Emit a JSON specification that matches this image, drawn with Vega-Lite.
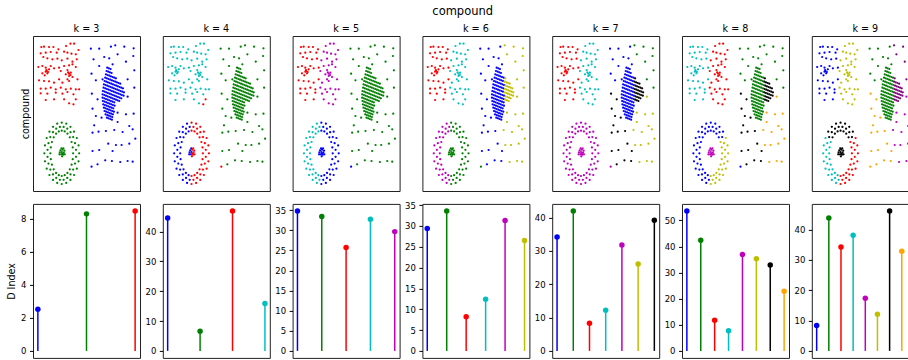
{
"$schema":"https://vega.github.io/schema/vega-lite/v6.json",
"padding":{"left":6,"top":6,"right":0,"bottom":0},
"title":{"text":"compound","fontSize":11.5,"anchor":"middle","offset":6},
"config":{"font":"DejaVu Sans","view":{"stroke":"#222","strokeWidth":1},
"title":{"fontSize":9.6,"fontWeight":"normal","color":"#000","offset":2},
"axis":{"grid":false,"domain":false,"tickColor":"#000","labelColor":"#000","titleColor":"#000","labelFontSize":8.5,"titleFontSize":9.6,"titleFontWeight":"normal","tickSize":3.5,"labelPadding":3.5,"titlePadding":4,"labelOverlap":false,"labelFlush":false}},
"datasets":{
"reg":[
{"r":"A","k3":2,"k4":3,"k5":2,"k6":2,"k7":2,"k8":3,"k9":0},
{"r":"B","k3":2,"k4":3,"k5":4,"k6":3,"k7":3,"k8":2,"k9":5},
{"r":"Bx","k3":2,"k4":2,"k5":4,"k6":3,"k7":3,"k8":2,"k9":5},
{"r":"CLT","k3":0,"k4":1,"k5":1,"k6":0,"k7":0,"k8":1,"k9":1},
{"r":"CLB","k3":0,"k4":1,"k5":1,"k6":0,"k7":0,"k8":1,"k9":1},
{"r":"CR","k3":0,"k4":1,"k5":1,"k6":5,"k7":6,"k8":6,"k9":8},
{"r":"D1","k3":0,"k4":1,"k5":1,"k6":0,"k7":0,"k8":1,"k9":1},
{"r":"D2","k3":0,"k4":1,"k5":1,"k6":5,"k7":1,"k8":1,"k9":8},
{"r":"D3","k3":0,"k4":1,"k5":1,"k6":0,"k7":6,"k8":6,"k9":7},
{"r":"D4","k3":0,"k4":1,"k5":1,"k6":5,"k7":5,"k8":7,"k9":4},
{"r":"Dx","k3":0,"k4":2,"k5":0,"k6":1,"k7":4,"k8":0,"k9":7},
{"r":"ETL","k3":1,"k4":0,"k5":3,"k6":4,"k7":4,"k8":0,"k9":6},
{"r":"ETR","k3":1,"k4":2,"k5":0,"k6":1,"k7":4,"k8":0,"k9":6},
{"r":"EL","k3":1,"k4":0,"k5":3,"k6":4,"k7":4,"k8":0,"k9":3},
{"r":"ER","k3":1,"k4":2,"k5":0,"k6":1,"k7":4,"k8":5,"k9":2},
{"r":"FL","k3":1,"k4":0,"k5":0,"k6":1,"k7":4,"k8":4,"k9":6},
{"r":"FR","k3":1,"k4":2,"k5":0,"k6":1,"k7":4,"k8":4,"k9":6}
],
"d":[
{"k":3,"i":0,"c":0,"v":2.53},{"k":3,"i":1,"c":1,"v":8.30},{"k":3,"i":2,"c":2,"v":8.48},
{"k":4,"i":0,"c":0,"v":44.5},{"k":4,"i":1,"c":1,"v":6.6},{"k":4,"i":2,"c":2,"v":46.9},{"k":4,"i":3,"c":3,"v":15.9},
{"k":5,"i":0,"c":0,"v":34.8},{"k":5,"i":1,"c":1,"v":33.4},{"k":5,"i":2,"c":2,"v":25.7},{"k":5,"i":3,"c":3,"v":32.7},{"k":5,"i":4,"c":4,"v":29.65},
{"k":6,"i":0,"c":0,"v":29.4},{"k":6,"i":1,"c":1,"v":33.6},{"k":6,"i":2,"c":2,"v":8.2},{"k":6,"i":3,"c":3,"v":12.4},{"k":6,"i":4,"c":4,"v":31.3},{"k":6,"i":5,"c":5,"v":26.5},
{"k":7,"i":0,"c":0,"v":34.2},{"k":7,"i":1,"c":1,"v":42.0},{"k":7,"i":2,"c":2,"v":8.3},{"k":7,"i":3,"c":3,"v":12.2},{"k":7,"i":4,"c":4,"v":31.8},{"k":7,"i":5,"c":5,"v":26.1},{"k":7,"i":6,"c":6,"v":39.2},
{"k":8,"i":0,"c":0,"v":53.6},{"k":8,"i":1,"c":1,"v":42.4},{"k":8,"i":2,"c":2,"v":11.7},{"k":8,"i":3,"c":3,"v":7.7},{"k":8,"i":4,"c":4,"v":36.9},{"k":8,"i":5,"c":5,"v":35.3},{"k":8,"i":6,"c":6,"v":32.9},{"k":8,"i":7,"c":7,"v":22.8},
{"k":9,"i":0,"c":0,"v":8.4},{"k":9,"i":1,"c":1,"v":43.8},{"k":9,"i":2,"c":2,"v":34.2},{"k":9,"i":3,"c":3,"v":38.1},{"k":9,"i":4,"c":4,"v":17.3},{"k":9,"i":5,"c":5,"v":12.1},{"k":9,"i":6,"c":6,"v":46.1},{"k":9,"i":7,"c":7,"v":32.8},{"k":9,"i":8,"c":8,"v":20.0}
],
"pts":[
{"x":25,"y":432,"r":"A"},{"x":33,"y":433,"r":"A"},{"x":48,"y":432,"r":"A"},{"x":61,"y":432,"r":"A"},{"x":76,"y":425,"r":"A"},
{"x":23,"y":413,"r":"A"},{"x":38,"y":415,"r":"A"},{"x":53,"y":417,"r":"A"},{"x":71,"y":415,"r":"A"},
{"x":31,"y":402,"r":"A"},{"x":43,"y":398,"r":"A"},{"x":58,"y":395,"r":"A"},{"x":73,"y":397,"r":"A"},
{"x":16,"y":372,"r":"A"},{"x":28,"y":375,"r":"A"},{"x":38,"y":370,"r":"A"},{"x":48,"y":365,"r":"A"},{"x":41,"y":360,"r":"A"},{"x":43,"y":353,"r":"A"},{"x":35,"y":347,"r":"A"},{"x":28,"y":353,"r":"A"},{"x":53,"y":375,"r":"A"},{"x":63,"y":368,"r":"A"},{"x":78,"y":370,"r":"A"},
{"x":18,"y":332,"r":"A"},{"x":33,"y":330,"r":"A"},{"x":48,"y":329,"r":"A"},{"x":63,"y":325,"r":"A"},{"x":78,"y":335,"r":"A"},
{"x":23,"y":307,"r":"A"},{"x":38,"y":307,"r":"A"},{"x":53,"y":310,"r":"A"},{"x":68,"y":305,"r":"A"},
{"x":23,"y":293,"r":"A"},{"x":43,"y":292,"r":"A"},{"x":68,"y":295,"r":"A"},
{"x":38,"y":273,"r":"A"},{"x":63,"y":275,"r":"A"},
{"x":38,"y":358,"r":"A"},{"x":45,"y":357,"r":"A"},{"x":40,"y":363,"r":"A"},
{"x":99,"y":435,"r":"B"},{"x":112,"y":442,"r":"B"},{"x":123,"y":442,"r":"B"},{"x":136,"y":423,"r":"B"},
{"x":93,"y":418,"r":"B"},{"x":103,"y":415,"r":"B"},{"x":115,"y":412,"r":"B"},{"x":128,"y":410,"r":"B"},
{"x":86,"y":392,"r":"B"},{"x":103,"y":397,"r":"B"},{"x":118,"y":388,"r":"B"},{"x":131,"y":395,"r":"B"},
{"x":93,"y":375,"r":"B"},{"x":108,"y":377,"r":"B"},{"x":118,"y":380,"r":"B"},{"x":128,"y":372,"r":"B"},{"x":103,"y":363,"r":"B"},{"x":113,"y":355,"r":"B"},{"x":108,"y":345,"r":"B"},{"x":118,"y":342,"r":"B"},{"x":103,"y":335,"r":"B"},{"x":98,"y":350,"r":"B"},{"x":83,"y":360,"r":"B"},
{"x":88,"y":325,"r":"B"},{"x":108,"y":330,"r":"B"},{"x":133,"y":335,"r":"B"},
{"x":83,"y":310,"r":"B"},{"x":98,"y":305,"r":"B"},{"x":113,"y":307,"r":"B"},{"x":128,"y":305,"r":"B"},{"x":138,"y":305,"r":"B"},
{"x":88,"y":292,"r":"B"},{"x":103,"y":297,"r":"B"},{"x":121,"y":290,"r":"B"},
{"x":93,"y":275,"r":"B"},{"x":108,"y":263,"r":"B"},
{"x":108,"y":352,"r":"B"},{"x":112,"y":348,"r":"B"},{"x":105,"y":356,"r":"B"},
{"x":121,"y":260,"r":"Bx"},{"x":128,"y":275,"r":"Bx"},
{"x":222,"y":370,"r":"CLT"},{"x":227,"y":368,"r":"CLT"},{"x":232,"y":366,"r":"CLT"},
{"x":220,"y":360,"r":"CLT"},{"x":225,"y":358,"r":"CLT"},{"x":230,"y":356,"r":"CLT"},{"x":235,"y":354,"r":"CLT"},
{"x":218,"y":350,"r":"CLT"},{"x":223,"y":348,"r":"CLT"},{"x":228,"y":346,"r":"CLT"},{"x":233,"y":344,"r":"CLT"},{"x":238,"y":342,"r":"CLT"},{"x":243,"y":340,"r":"CLT"},{"x":248,"y":338,"r":"CR"},
{"x":216,"y":340,"r":"CLT"},{"x":221,"y":338,"r":"CLT"},{"x":226,"y":336,"r":"CLT"},{"x":231,"y":334,"r":"CLT"},{"x":236,"y":332,"r":"CLT"},{"x":241,"y":330,"r":"CLT"},{"x":246,"y":328,"r":"CR"},{"x":251,"y":326,"r":"CR"},{"x":256,"y":324,"r":"CR"},{"x":261,"y":322,"r":"CR"},
{"x":214,"y":330,"r":"CLT"},{"x":219,"y":328,"r":"CLT"},{"x":224,"y":326,"r":"CLT"},{"x":229,"y":324,"r":"CLT"},{"x":234,"y":322,"r":"CLT"},{"x":239,"y":320,"r":"CLT"},{"x":244,"y":318,"r":"CLT"},{"x":249,"y":316,"r":"CR"},{"x":254,"y":314,"r":"CR"},{"x":259,"y":312,"r":"CR"},{"x":264,"y":310,"r":"CR"},{"x":269,"y":308,"r":"CR"},
{"x":212,"y":320,"r":"CLT"},{"x":217,"y":318,"r":"CLT"},{"x":222,"y":316,"r":"CLT"},{"x":227,"y":314,"r":"CLT"},{"x":232,"y":312,"r":"CLT"},{"x":237,"y":310,"r":"CLT"},{"x":242,"y":308,"r":"CLT"},{"x":247,"y":306,"r":"CR"},{"x":252,"y":304,"r":"CR"},{"x":257,"y":302,"r":"CR"},{"x":262,"y":300,"r":"CR"},{"x":267,"y":298,"r":"CR"},{"x":272,"y":296,"r":"CR"},
{"x":211,"y":310,"r":"CLT"},{"x":216,"y":308,"r":"CLT"},{"x":221,"y":306,"r":"CLT"},{"x":226,"y":304,"r":"CLT"},{"x":231,"y":302,"r":"CLT"},{"x":236,"y":300,"r":"CLB"},{"x":241,"y":298,"r":"CLB"},{"x":246,"y":296,"r":"CR"},{"x":251,"y":294,"r":"CR"},{"x":256,"y":292,"r":"CR"},{"x":261,"y":290,"r":"CR"},{"x":266,"y":288,"r":"CR"},{"x":271,"y":286,"r":"CR"},
{"x":209,"y":300,"r":"CLB"},{"x":214,"y":298,"r":"CLB"},{"x":219,"y":296,"r":"CLB"},{"x":224,"y":294,"r":"CLB"},{"x":229,"y":292,"r":"CLB"},{"x":234,"y":290,"r":"CLB"},{"x":239,"y":288,"r":"CLB"},{"x":244,"y":286,"r":"CLB"},{"x":249,"y":284,"r":"CR"},{"x":254,"y":282,"r":"CR"},{"x":259,"y":280,"r":"CR"},{"x":264,"y":278,"r":"CR"},
{"x":208,"y":290,"r":"CLB"},{"x":213,"y":288,"r":"CLB"},{"x":218,"y":286,"r":"CLB"},{"x":223,"y":284,"r":"CLB"},{"x":228,"y":282,"r":"CLB"},{"x":233,"y":280,"r":"CLB"},{"x":238,"y":278,"r":"CLB"},{"x":243,"y":276,"r":"CLB"},{"x":248,"y":274,"r":"CR"},{"x":253,"y":272,"r":"CR"},{"x":258,"y":270,"r":"CR"},
{"x":208,"y":280,"r":"CLB"},{"x":213,"y":278,"r":"CLB"},{"x":218,"y":276,"r":"CLB"},{"x":223,"y":274,"r":"CLB"},{"x":228,"y":272,"r":"CLB"},{"x":233,"y":270,"r":"CLB"},{"x":238,"y":268,"r":"CLB"},{"x":243,"y":266,"r":"CLB"},
{"x":209,"y":270,"r":"CLB"},{"x":214,"y":268,"r":"CLB"},{"x":219,"y":266,"r":"CLB"},{"x":224,"y":264,"r":"CLB"},{"x":229,"y":262,"r":"CLB"},{"x":234,"y":260,"r":"CLB"},{"x":239,"y":258,"r":"CLB"},{"x":244,"y":256,"r":"CLB"},
{"x":210,"y":260,"r":"CLB"},{"x":215,"y":258,"r":"CLB"},{"x":220,"y":256,"r":"CLB"},{"x":225,"y":254,"r":"CLB"},{"x":230,"y":252,"r":"CLB"},{"x":235,"y":250,"r":"CLB"},{"x":240,"y":248,"r":"CLB"},
{"x":212,"y":250,"r":"CLB"},{"x":217,"y":248,"r":"CLB"},{"x":222,"y":246,"r":"CLB"},{"x":227,"y":244,"r":"CLB"},{"x":232,"y":242,"r":"CLB"},{"x":237,"y":240,"r":"CLB"},{"x":242,"y":238,"r":"CLB"},
{"x":214,"y":240,"r":"CLB"},{"x":219,"y":238,"r":"CLB"},{"x":224,"y":236,"r":"CLB"},{"x":229,"y":234,"r":"CLB"},{"x":234,"y":232,"r":"CLB"},{"x":239,"y":230,"r":"CLB"},
{"x":217,"y":230,"r":"CLB"},{"x":222,"y":228,"r":"CLB"},{"x":227,"y":226,"r":"CLB"},{"x":232,"y":224,"r":"CLB"},{"x":237,"y":222,"r":"CLB"},
{"x":221,"y":220,"r":"CLB"},{"x":226,"y":218,"r":"CLB"},{"x":231,"y":216,"r":"CLB"},{"x":236,"y":214,"r":"CLB"},
{"x":173,"y":427,"r":"D1"},{"x":198,"y":427,"r":"D1"},{"x":233,"y":433,"r":"D1"},{"x":246,"y":437,"r":"D2"},{"x":273,"y":433,"r":"D2"},{"x":301,"y":428,"r":"D2"},
{"x":181,"y":395,"r":"D1"},{"x":213,"y":402,"r":"D1"},{"x":228,"y":398,"r":"D1"},{"x":253,"y":410,"r":"D2"},{"x":278,"y":388,"r":"D2"},{"x":300,"y":405,"r":"D2"},
{"x":198,"y":375,"r":"D1"},{"x":238,"y":380,"r":"D1"},{"x":303,"y":362,"r":"D2"},
{"x":175,"y":352,"r":"D1"},{"x":188,"y":332,"r":"D1"},{"x":208,"y":335,"r":"D1"},{"x":283,"y":335,"r":"D2"},
{"x":176,"y":292,"r":"D3"},{"x":193,"y":275,"r":"D3"},{"x":283,"y":283,"r":"D4"},{"x":303,"y":310,"r":"D2"},
{"x":178,"y":247,"r":"D3"},{"x":188,"y":225,"r":"D3"},{"x":205,"y":220,"r":"D3"},{"x":253,"y":235,"r":"D4"},{"x":278,"y":230,"r":"D4"},{"x":301,"y":232,"r":"D4"},
{"x":253,"y":207,"r":"D4"},{"x":183,"y":197,"r":"D3"},{"x":288,"y":195,"r":"D4"},
{"x":178,"y":175,"r":"D3"},{"x":196,"y":178,"r":"D3"},{"x":218,"y":180,"r":"D3"},{"x":243,"y":183,"r":"D4"},{"x":268,"y":177,"r":"D4"},{"x":298,"y":185,"r":"D4"},
{"x":225,"y":142,"r":"D3"},{"x":248,"y":138,"r":"D4"},{"x":265,"y":138,"r":"D4"},{"x":288,"y":142,"r":"D4"},{"x":306,"y":157,"r":"D4"},
{"x":178,"y":120,"r":"D3"},{"x":198,"y":123,"r":"D3"},{"x":238,"y":120,"r":"D3"},
{"x":216,"y":92,"r":"D3"},{"x":236,"y":90,"r":"D3"},{"x":261,"y":87,"r":"D4"},{"x":283,"y":90,"r":"D4"},{"x":298,"y":88,"r":"D4"},
{"x":175,"y":73,"r":"Dx"},{"x":193,"y":80,"r":"D3"},
{"x":138,"y":113,"r":"ER"},{"x":136.2,"y":136.8,"r":"ER"},{"x":131,"y":159,"r":"ER"},{"x":122.8,"y":178,"r":"ETR"},{"x":112,"y":192.7,"r":"ETR"},{"x":99.5,"y":201.9,"r":"ETR"},{"x":86,"y":205,"r":"ETR"},{"x":72.5,"y":201.9,"r":"ETL"},{"x":60,"y":192.7,"r":"ETL"},{"x":49.2,"y":178,"r":"ETL"},{"x":41,"y":159,"r":"EL"},{"x":35.8,"y":136.8,"r":"EL"},{"x":34,"y":113,"r":"EL"},{"x":35.8,"y":89.2,"r":"EL"},{"x":41,"y":67,"r":"EL"},{"x":49.2,"y":48,"r":"EL"},{"x":60,"y":33.3,"r":"EL"},{"x":72.5,"y":24.1,"r":"EL"},{"x":86,"y":21,"r":"ER"},{"x":99.5,"y":24.1,"r":"ER"},{"x":112,"y":33.3,"r":"ER"},{"x":122.8,"y":48,"r":"ER"},{"x":131,"y":67,"r":"ER"},{"x":136.2,"y":89.2,"r":"ER"},
{"x":128.6,"y":123.5,"r":"ER"},{"x":125.7,"y":143.6,"r":"ER"},{"x":120.1,"y":161.7,"r":"ETR"},{"x":112.2,"y":176.4,"r":"ETR"},{"x":102.5,"y":186.9,"r":"ETR"},{"x":91.6,"y":192.3,"r":"ETR"},{"x":80.4,"y":192.3,"r":"ETL"},{"x":69.5,"y":186.9,"r":"ETL"},{"x":59.8,"y":176.4,"r":"ETL"},{"x":51.9,"y":161.7,"r":"ETL"},{"x":46.3,"y":143.6,"r":"EL"},{"x":43.4,"y":123.5,"r":"EL"},{"x":43.4,"y":102.5,"r":"EL"},{"x":46.3,"y":82.4,"r":"EL"},{"x":51.9,"y":64.3,"r":"EL"},{"x":59.8,"y":49.6,"r":"EL"},{"x":69.5,"y":39.1,"r":"EL"},{"x":80.4,"y":33.7,"r":"EL"},{"x":91.6,"y":33.7,"r":"ER"},{"x":102.5,"y":39.1,"r":"ER"},{"x":112.2,"y":49.6,"r":"ER"},{"x":120.1,"y":64.3,"r":"ER"},{"x":125.7,"y":82.4,"r":"ER"},{"x":128.6,"y":102.5,"r":"ER"},
{"x":120,"y":113,"r":"ER"},{"x":118.8,"y":130.6,"r":"ER"},{"x":115.4,"y":147,"r":"ER"},{"x":110,"y":161.1,"r":"ETR"},{"x":103,"y":171.9,"r":"ETR"},{"x":94.8,"y":178.7,"r":"ETR"},{"x":86,"y":181,"r":"ETR"},{"x":77.2,"y":178.7,"r":"ETL"},{"x":69,"y":171.9,"r":"ETL"},{"x":62,"y":161.1,"r":"ETL"},{"x":56.6,"y":147,"r":"EL"},{"x":53.2,"y":130.6,"r":"EL"},{"x":52,"y":113,"r":"EL"},{"x":53.2,"y":95.4,"r":"EL"},{"x":56.6,"y":79,"r":"EL"},{"x":62,"y":64.9,"r":"EL"},{"x":69,"y":54.1,"r":"EL"},{"x":77.2,"y":47.3,"r":"EL"},{"x":86,"y":45,"r":"ER"},{"x":94.8,"y":47.3,"r":"ER"},{"x":103,"y":54.1,"r":"ER"},{"x":110,"y":64.9,"r":"ER"},{"x":115.4,"y":79,"r":"ER"},{"x":118.8,"y":95.4,"r":"ER"},
{"x":82,"y":122,"r":"FL"},{"x":88,"y":124,"r":"FR"},{"x":94,"y":121,"r":"FR"},{"x":80,"y":116,"r":"FL"},{"x":86,"y":117,"r":"FL"},{"x":92,"y":115,"r":"FR"},{"x":84,"y":110,"r":"FL"},{"x":90,"y":109,"r":"FR"},{"x":87,"y":104,"r":"FR"},{"x":85,"y":128,"r":"FL"},{"x":91,"y":128,"r":"FR"},{"x":79,"y":110,"r":"FL"},{"x":95,"y":110,"r":"FR"},{"x":88,"y":112,"r":"FR"}
]},
"vconcat":[
{"hconcat":[
{"title":"k = 3","width":107,"height":155,"data":{"name":"pts"},"transform":[{"lookup":"r","from":{"data":{"name":"reg"},"key":"r","fields":["k3"]}}],"mark":{"type":"circle","size":5,"opacity":1},
"encoding":{"x":{"field":"x","type":"quantitative","scale":{"domain":[0,320],"nice":false,"zero":false},"axis":null},"y":{"field":"y","type":"quantitative","scale":{"domain":[0,465],"nice":false,"zero":false},"axis":{"title":"compound","labels":false,"ticks":false,"domain":false,"titlePadding":3}},"color":{"field":"k3","type":"nominal","scale":{"domain":[0,1,2,3,4,5,6,7,8],"range":["#0000ff","#008000","#ff0000","#00bfbf","#bf00bf","#bfbf00","#000000","#ffa500","#800080"]},"legend":null}}},
{"title":"k = 4","width":107,"height":155,"data":{"name":"pts"},"transform":[{"lookup":"r","from":{"data":{"name":"reg"},"key":"r","fields":["k4"]}}],"mark":{"type":"circle","size":5,"opacity":1},
"encoding":{"x":{"field":"x","type":"quantitative","scale":{"domain":[0,320],"nice":false,"zero":false},"axis":null},"y":{"field":"y","type":"quantitative","scale":{"domain":[0,465],"nice":false,"zero":false},"axis":null},"color":{"field":"k4","type":"nominal","scale":{"domain":[0,1,2,3,4,5,6,7,8],"range":["#0000ff","#008000","#ff0000","#00bfbf","#bf00bf","#bfbf00","#000000","#ffa500","#800080"]},"legend":null}}},
{"title":"k = 5","width":107,"height":155,"data":{"name":"pts"},"transform":[{"lookup":"r","from":{"data":{"name":"reg"},"key":"r","fields":["k5"]}}],"mark":{"type":"circle","size":5,"opacity":1},
"encoding":{"x":{"field":"x","type":"quantitative","scale":{"domain":[0,320],"nice":false,"zero":false},"axis":null},"y":{"field":"y","type":"quantitative","scale":{"domain":[0,465],"nice":false,"zero":false},"axis":null},"color":{"field":"k5","type":"nominal","scale":{"domain":[0,1,2,3,4,5,6,7,8],"range":["#0000ff","#008000","#ff0000","#00bfbf","#bf00bf","#bfbf00","#000000","#ffa500","#800080"]},"legend":null}}},
{"title":"k = 6","width":107,"height":155,"data":{"name":"pts"},"transform":[{"lookup":"r","from":{"data":{"name":"reg"},"key":"r","fields":["k6"]}}],"mark":{"type":"circle","size":5,"opacity":1},
"encoding":{"x":{"field":"x","type":"quantitative","scale":{"domain":[0,320],"nice":false,"zero":false},"axis":null},"y":{"field":"y","type":"quantitative","scale":{"domain":[0,465],"nice":false,"zero":false},"axis":null},"color":{"field":"k6","type":"nominal","scale":{"domain":[0,1,2,3,4,5,6,7,8],"range":["#0000ff","#008000","#ff0000","#00bfbf","#bf00bf","#bfbf00","#000000","#ffa500","#800080"]},"legend":null}}},
{"title":"k = 7","width":107,"height":155,"data":{"name":"pts"},"transform":[{"lookup":"r","from":{"data":{"name":"reg"},"key":"r","fields":["k7"]}}],"mark":{"type":"circle","size":5,"opacity":1},
"encoding":{"x":{"field":"x","type":"quantitative","scale":{"domain":[0,320],"nice":false,"zero":false},"axis":null},"y":{"field":"y","type":"quantitative","scale":{"domain":[0,465],"nice":false,"zero":false},"axis":null},"color":{"field":"k7","type":"nominal","scale":{"domain":[0,1,2,3,4,5,6,7,8],"range":["#0000ff","#008000","#ff0000","#00bfbf","#bf00bf","#bfbf00","#000000","#ffa500","#800080"]},"legend":null}}},
{"title":"k = 8","width":107,"height":155,"data":{"name":"pts"},"transform":[{"lookup":"r","from":{"data":{"name":"reg"},"key":"r","fields":["k8"]}}],"mark":{"type":"circle","size":5,"opacity":1},
"encoding":{"x":{"field":"x","type":"quantitative","scale":{"domain":[0,320],"nice":false,"zero":false},"axis":null},"y":{"field":"y","type":"quantitative","scale":{"domain":[0,465],"nice":false,"zero":false},"axis":null},"color":{"field":"k8","type":"nominal","scale":{"domain":[0,1,2,3,4,5,6,7,8],"range":["#0000ff","#008000","#ff0000","#00bfbf","#bf00bf","#bfbf00","#000000","#ffa500","#800080"]},"legend":null}}},
{"title":"k = 9","width":107,"height":155,"data":{"name":"pts"},"transform":[{"lookup":"r","from":{"data":{"name":"reg"},"key":"r","fields":["k9"]}}],"mark":{"type":"circle","size":5,"opacity":1},
"encoding":{"x":{"field":"x","type":"quantitative","scale":{"domain":[0,320],"nice":false,"zero":false},"axis":null},"y":{"field":"y","type":"quantitative","scale":{"domain":[0,465],"nice":false,"zero":false},"axis":null},"color":{"field":"k9","type":"nominal","scale":{"domain":[0,1,2,3,4,5,6,7,8],"range":["#0000ff","#008000","#ff0000","#00bfbf","#bf00bf","#bfbf00","#000000","#ffa500","#800080"]},"legend":null}}}
],"spacing":22.8,"bounds":"flush"},
{"hconcat":[
{"width":107,"height":154,"data":{"name":"d"},"transform":[{"filter":"datum.k==3"}],"encoding":{"x":{"field":"i","type":"quantitative","scale":{"domain":[-0.1,2.1],"nice":false,"zero":false},"axis":null},"y":{"field":"v","type":"quantitative","scale":{"domain":[-0.424,8.904],"nice":false,"zero":false},"axis":{"title":"D Index","values":[0,2,4,6,8],"labelOverlap":false}},"color":{"field":"c","type":"nominal","scale":{"domain":[0,1,2,3,4,5,6,7,8],"range":["#0000ff","#008000","#ff0000","#00bfbf","#bf00bf","#bfbf00","#000000","#ffa500","#800080"]},"legend":null}},
"layer":[{"mark":{"type":"rule","strokeWidth":1.5},"encoding":{"y2":{"datum":0}}},{"mark":{"type":"circle","size":30,"opacity":1},"encoding":{}}]},
{"width":107,"height":154,"data":{"name":"d"},"transform":[{"filter":"datum.k==4"}],"encoding":{"x":{"field":"i","type":"quantitative","scale":{"domain":[-0.15,3.15],"nice":false,"zero":false},"axis":null},"y":{"field":"v","type":"quantitative","scale":{"domain":[-2.345,49.245],"nice":false,"zero":false},"axis":{"title":null,"values":[0,10,20,30,40],"labelOverlap":false}},"color":{"field":"c","type":"nominal","scale":{"domain":[0,1,2,3,4,5,6,7,8],"range":["#0000ff","#008000","#ff0000","#00bfbf","#bf00bf","#bfbf00","#000000","#ffa500","#800080"]},"legend":null}},
"layer":[{"mark":{"type":"rule","strokeWidth":1.5},"encoding":{"y2":{"datum":0}}},{"mark":{"type":"circle","size":30,"opacity":1},"encoding":{}}]},
{"width":107,"height":154,"data":{"name":"d"},"transform":[{"filter":"datum.k==5"}],"encoding":{"x":{"field":"i","type":"quantitative","scale":{"domain":[-0.2,4.2],"nice":false,"zero":false},"axis":null},"y":{"field":"v","type":"quantitative","scale":{"domain":[-1.74,36.54],"nice":false,"zero":false},"axis":{"title":null,"values":[0,5,10,15,20,25,30,35],"labelOverlap":false}},"color":{"field":"c","type":"nominal","scale":{"domain":[0,1,2,3,4,5,6,7,8],"range":["#0000ff","#008000","#ff0000","#00bfbf","#bf00bf","#bfbf00","#000000","#ffa500","#800080"]},"legend":null}},
"layer":[{"mark":{"type":"rule","strokeWidth":1.5},"encoding":{"y2":{"datum":0}}},{"mark":{"type":"circle","size":30,"opacity":1},"encoding":{}}]},
{"width":107,"height":154,"data":{"name":"d"},"transform":[{"filter":"datum.k==6"}],"encoding":{"x":{"field":"i","type":"quantitative","scale":{"domain":[-0.25,5.25],"nice":false,"zero":false},"axis":null},"y":{"field":"v","type":"quantitative","scale":{"domain":[-1.68,35.28],"nice":false,"zero":false},"axis":{"title":null,"values":[0,5,10,15,20,25,30,35],"labelOverlap":false}},"color":{"field":"c","type":"nominal","scale":{"domain":[0,1,2,3,4,5,6,7,8],"range":["#0000ff","#008000","#ff0000","#00bfbf","#bf00bf","#bfbf00","#000000","#ffa500","#800080"]},"legend":null}},
"layer":[{"mark":{"type":"rule","strokeWidth":1.5},"encoding":{"y2":{"datum":0}}},{"mark":{"type":"circle","size":30,"opacity":1},"encoding":{}}]},
{"width":107,"height":154,"data":{"name":"d"},"transform":[{"filter":"datum.k==7"}],"encoding":{"x":{"field":"i","type":"quantitative","scale":{"domain":[-0.3,6.3],"nice":false,"zero":false},"axis":null},"y":{"field":"v","type":"quantitative","scale":{"domain":[-2.1,44.1],"nice":false,"zero":false},"axis":{"title":null,"values":[0,10,20,30,40],"labelOverlap":false}},"color":{"field":"c","type":"nominal","scale":{"domain":[0,1,2,3,4,5,6,7,8],"range":["#0000ff","#008000","#ff0000","#00bfbf","#bf00bf","#bfbf00","#000000","#ffa500","#800080"]},"legend":null}},
"layer":[{"mark":{"type":"rule","strokeWidth":1.5},"encoding":{"y2":{"datum":0}}},{"mark":{"type":"circle","size":30,"opacity":1},"encoding":{}}]},
{"width":107,"height":154,"data":{"name":"d"},"transform":[{"filter":"datum.k==8"}],"encoding":{"x":{"field":"i","type":"quantitative","scale":{"domain":[-0.35,7.35],"nice":false,"zero":false},"axis":null},"y":{"field":"v","type":"quantitative","scale":{"domain":[-2.68,56.28],"nice":false,"zero":false},"axis":{"title":null,"values":[0,10,20,30,40,50],"labelOverlap":false}},"color":{"field":"c","type":"nominal","scale":{"domain":[0,1,2,3,4,5,6,7,8],"range":["#0000ff","#008000","#ff0000","#00bfbf","#bf00bf","#bfbf00","#000000","#ffa500","#800080"]},"legend":null}},
"layer":[{"mark":{"type":"rule","strokeWidth":1.5},"encoding":{"y2":{"datum":0}}},{"mark":{"type":"circle","size":30,"opacity":1},"encoding":{}}]},
{"width":107,"height":154,"data":{"name":"d"},"transform":[{"filter":"datum.k==9"}],"encoding":{"x":{"field":"i","type":"quantitative","scale":{"domain":[-0.4,8.4],"nice":false,"zero":false},"axis":null},"y":{"field":"v","type":"quantitative","scale":{"domain":[-2.305,48.405],"nice":false,"zero":false},"axis":{"title":null,"values":[0,10,20,30,40],"labelOverlap":false}},"color":{"field":"c","type":"nominal","scale":{"domain":[0,1,2,3,4,5,6,7,8],"range":["#0000ff","#008000","#ff0000","#00bfbf","#bf00bf","#bfbf00","#000000","#ffa500","#800080"]},"legend":null}},
"layer":[{"mark":{"type":"rule","strokeWidth":1.5},"encoding":{"y2":{"datum":0}}},{"mark":{"type":"circle","size":30,"opacity":1},"encoding":{}}]}
],"spacing":22.8,"bounds":"flush"}
],"spacing":7.9
}
